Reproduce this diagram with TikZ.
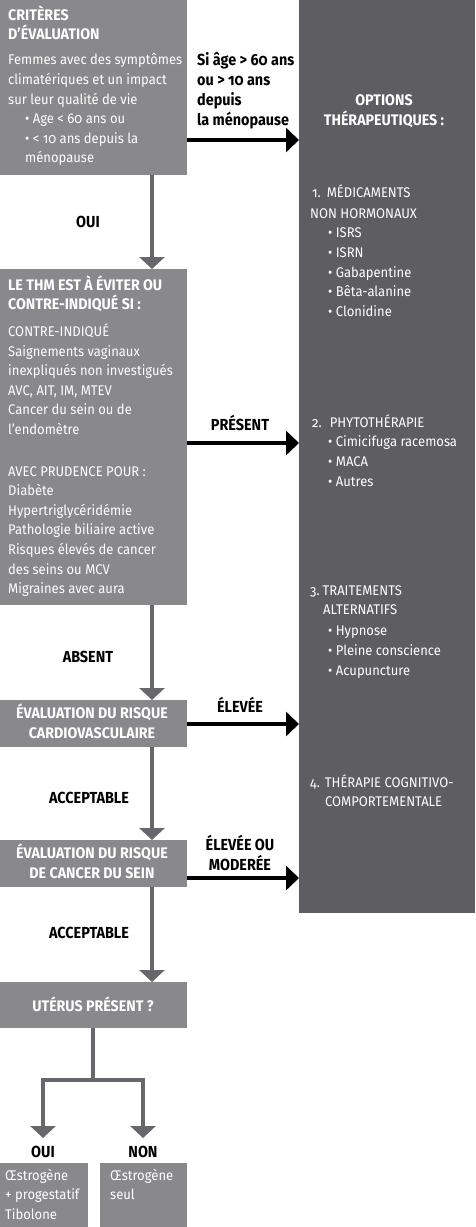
\documentclass[tikz,border=0pt]{standalone}
\usepackage{fontspec}
\setmainfont[Numbers=OldStyle,FakeStretch=0.93]{Fira Sans}
\newfontfamily\labfont[Numbers=OldStyle,FakeStretch=0.9]{Fira Sans}
\usetikzlibrary{arrows.meta}
\definecolor{lbox}{RGB}{137,137,140}
\definecolor{rbox}{RGB}{94,93,98}
\definecolor{varr}{RGB}{104,104,108}
\newcommand\fst{\rule{0pt}{16pt}}
\newcommand\hd[1]{{\fontsize{15.3}{19.6}\selectfont\bfseries #1}}
\tikzset{
  box/.style={fill=lbox, draw=none, anchor=north west, inner sep=0pt, outer sep=0pt},
  wtxt/.style={text=white, inner sep=0pt, align=left, anchor=north west,
    font=\fontsize{14}{19.6}\selectfont},
  whead/.style={text=white, inner sep=0pt, align=center, anchor=north,
    font=\fontsize{15.3}{20}\selectfont\bfseries},
  blab/.style={text=black, inner sep=0pt, align=center, anchor=base,
    font=\labfont\fontsize{16}{20}\selectfont\bfseries},
  varrow/.style={draw=varr, line width=4pt, line join=miter,
    -{Triangle[width=25pt,length=12pt]}},
  harrow/.style={draw=black, line width=4pt,
    -{Triangle[width=24pt,length=13pt]}},
}
\begin{document}
\begin{tikzpicture}[x=1pt,y=-1pt]
\useasboundingbox (0,0) rectangle (475,1227);
% right panel
\node[fill=rbox, anchor=north west, inner sep=0pt, outer sep=0pt,
  minimum width=176pt, minimum height=913pt] (rb) at (299,0) {};
% left boxes
\node[box, minimum width=187pt, minimum height=175pt] (b1) at (0,0) {};
\node[box, minimum width=187pt, minimum height=336pt] (b2) at (0,269) {};
\node[box, minimum width=187pt, minimum height=47pt] (b3) at (0,700) {};
\node[box, minimum width=187pt, minimum height=47pt] (b4) at (0,840) {};
\node[box, minimum width=187pt, minimum height=46pt] (b5) at (0,982) {};
\node[box, minimum width=88pt, minimum height=64pt] (b6) at (0,1163) {};
\node[box, minimum width=87pt, minimum height=64pt] (b7) at (100,1163) {};

% texts in boxes (y = first baseline - 16)
\node[wtxt] (t1) at (8,4) {\fst\hd{CRITÈRES}\\\hd{D’ÉVALUATION}\\[5.4pt]
Femmes avec des symptômes\\climatériques et un impact\\sur leur qualité de vie\\
\hspace*{17pt}• Age < 60 ans ou\\\hspace*{17pt}• < 10 ans depuis la\\\hspace*{17pt}ménopause};
\node[wtxt] (t2) at (8,274) {\fst\hd{LE THM EST À ÉVITER OU}\\\hd{CONTRE-INDIQUÉ SI :}\\[7pt]
CONTRE-INDIQUÉ\\Saignements vaginaux\\inexpliqués non investigués\\AVC, AIT, IM, MTEV\\
Cancer du sein ou de\\l’endomètre\\[22pt]
AVEC PRUDENCE POUR :\\Diabète\\Hypertriglycéridémie\\Pathologie biliaire active\\
Risques élevés de cancer\\des seins ou MCV\\Migraines avec aura};
\node[whead] (t3) at (92,702) {\fst ÉVALUATION DU RISQUE\\CARDIOVASCULAIRE};
\node[whead] (t4) at (92,842) {\fst ÉVALUATION DU RISQUE\\DE CANCER DU SEIN};
\node[whead, anchor=base] (t5) at (93,1011) {UTÉRUS PRÉSENT ?};
\node[wtxt] (t6) at (5,1164) {\fst Œstrogène\\+ progestatif\\Tibolone};
\node[wtxt] (t7) at (110,1164) {\fst Œstrogène\\seul};

% right panel texts
\node[whead] (r0) at (384,89) {\fst OPTIONS\\THÉRAPEUTIQUES :};
\node[wtxt] (r1) at (310,181) {\fst\hspace*{2pt}1.\hspace{6pt}MÉDICAMENTS\\[1.4pt]NON HORMONAUX\\
\hspace*{18pt}• ISRS\\\hspace*{18pt}• ISRN\\\hspace*{18pt}• Gabapentine\\
\hspace*{18pt}• Bêta-alanine\\\hspace*{18pt}• Clonidine};
\node[wtxt] (r2) at (310,411) {\fst\hspace*{2pt}2.\hspace{8pt}PHYTOTHÉRAPIE\\
\hspace*{18pt}• Cimicifuga racemosa\\\hspace*{18pt}• MACA\\\hspace*{18pt}• Autres};
\node[wtxt] (r3) at (310,579) {\fst 3.\hspace{3pt}TRAITEMENTS\\\hspace*{13pt}ALTERNATIFS\\[1.4pt]
\hspace*{18pt}• Hypnose\\\hspace*{18pt}• Pleine conscience\\\hspace*{18pt}• Acupuncture};
\node[wtxt] (r4) at (310,771) {\fst 4.\hspace{5pt}THÉRAPIE COGNITIVO-\\\hspace*{15pt}COMPORTEMENTALE};

% labels
\node[blab] (l1) at (88,227) {OUI};
\node[blab] (l2) at (88,662) {ABSENT};
\node[blab] (l3) at (89,803) {ACCEPTABLE};
\node[blab] (l4) at (89,938) {ACCEPTABLE};
\node[blab] (l5) at (240,430) {PRÉSENT};
\node[blab] (l6) at (240,712) {ÉLEVÉE};
\node[blab, anchor=north] (l7) at (240,834) {\fst ÉLEVÉE OU\\MODERÉE};
\node[blab, align=left, anchor=north west] (l8) at (197,49) {\fst Si âge > 60 ans\\ou > 10 ans\\depuis\\la ménopause};
\node[blab] (l9) at (43,1157) {OUI};
\node[blab] (l10) at (143,1157) {NON};

% vertical arrows
\coordinate (ax) at (152,0);
\draw[varrow] (b1.south -| ax) -- (b2.north -| ax);
\draw[varrow] (b2.south -| ax) -- (b3.north -| ax);
\draw[varrow] (b3.south -| ax) -- (b4.north -| ax);
\draw[varrow] (b4.south -| ax) -- (b5.north -| ax);
% split
\coordinate (ux) at (93,0);
\coordinate (j) at (93,1080);
\coordinate (tl) at (43,1138);
\coordinate (tr) at (143,1138);
\draw[draw=varr, line width=4pt] (b5.south -| ux) -- (j);
\draw[varrow] (j) -| (tl);
\draw[varrow] (j) -| (tr);

% horizontal arrows
\coordinate (h1) at (0,140);
\coordinate (h2) at (0,443);
\coordinate (h3) at (0,724);
\coordinate (h4) at (0,878);
\draw[harrow] (b1.east |- h1) -- (rb.west |- h1);
\draw[harrow] (b2.east |- h2) -- (rb.west |- h2);
\draw[harrow] (b3.east |- h3) -- (rb.west |- h3);
\draw[harrow] (b4.east |- h4) -- (rb.west |- h4);
\end{tikzpicture}
\end{document}
